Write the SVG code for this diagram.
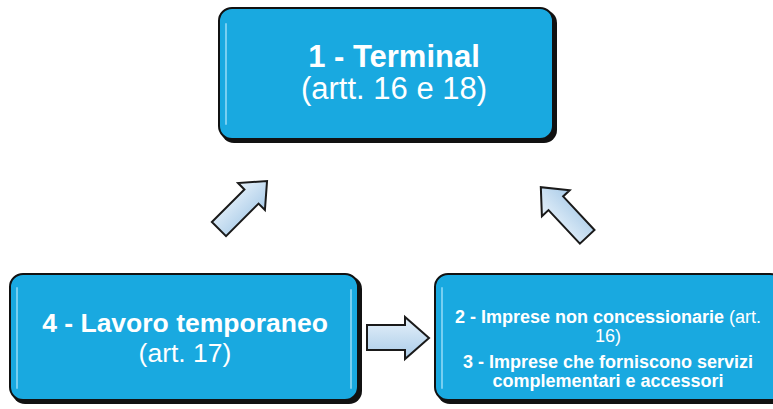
<svg xmlns="http://www.w3.org/2000/svg" width="773" height="409" viewBox="0 0 773 409">
<defs>
<style>
.box{fill:#19a9e0;stroke:#111;stroke-width:2}
.shadow{fill:#111}
.hl{fill:none;stroke:#8fd8f5;stroke-width:2;stroke-linecap:round;opacity:0.8}
.t{font-family:"Liberation Sans",Arial,sans-serif;fill:#fff;text-anchor:middle}
.b{font-weight:bold}
.arrow{fill:url(#ag);stroke:#1a1a1a;stroke-width:2;stroke-linejoin:miter}
</style>
<linearGradient id="ag" x1="0" y1="0" x2="0" y2="1">
<stop offset="0" stop-color="#e6f1fa"/>
<stop offset="1" stop-color="#a9cbe8"/>
</linearGradient>
</defs>
<g id="node1">
<rect class="shadow" x="221" y="10" width="336" height="133" rx="13"/>
<rect class="box" x="219" y="8" width="334" height="131" rx="13"/>
<path class="hl" d="M226 24 V124"/>
<text class="t b" x="394" y="67" font-size="31">1 - Terminal</text>
<text class="t" x="394" y="99" font-size="31">(artt. 16 e 18)</text>
</g>
<g id="node4">
<rect class="shadow" x="12" y="276" width="350" height="128" rx="13"/>
<rect class="box" x="10" y="274" width="348" height="126" rx="13"/>
<path class="hl" d="M17 288 V388"/>
<path class="hl" d="M351 290 V388"/>
<text class="t b" x="185" y="332" font-size="26.5">4 - Lavoro temporaneo</text>
<text class="t" x="185" y="362" font-size="26.5">(art. 17)</text>
</g>
<g id="node23">
<rect class="shadow" x="437" y="276" width="350" height="128" rx="13"/>
<rect class="box" x="435" y="274" width="348" height="126" rx="13"/>
<path class="hl" d="M442 288 V388"/>
<text class="t" x="608" y="323" font-size="18"><tspan font-weight="bold">2 - Imprese non concessionarie</tspan> (art.</text>
<text class="t" x="608" y="342" font-size="18">16)</text>
<text class="t b" x="608" y="368" font-size="18">3 - Imprese che forniscono servizi</text>
<text class="t b" x="608" y="387" font-size="18">complementari e accessori</text>
</g>
<g id="connectors">
<path class="arrow" d="M367 325 H405 V317 L429 338 L405 359 V350 H367 Z"/>
<path class="arrow" transform="translate(243 205) rotate(-45)" d="M-34 -10 H12 V-19 L34 0 L12 19 V10 H-34 Z"/>
<path class="arrow" transform="translate(564 212) rotate(-133)" d="M-34 -10 H12 V-19 L34 0 L12 19 V10 H-34 Z"/>
</g>
</svg>
